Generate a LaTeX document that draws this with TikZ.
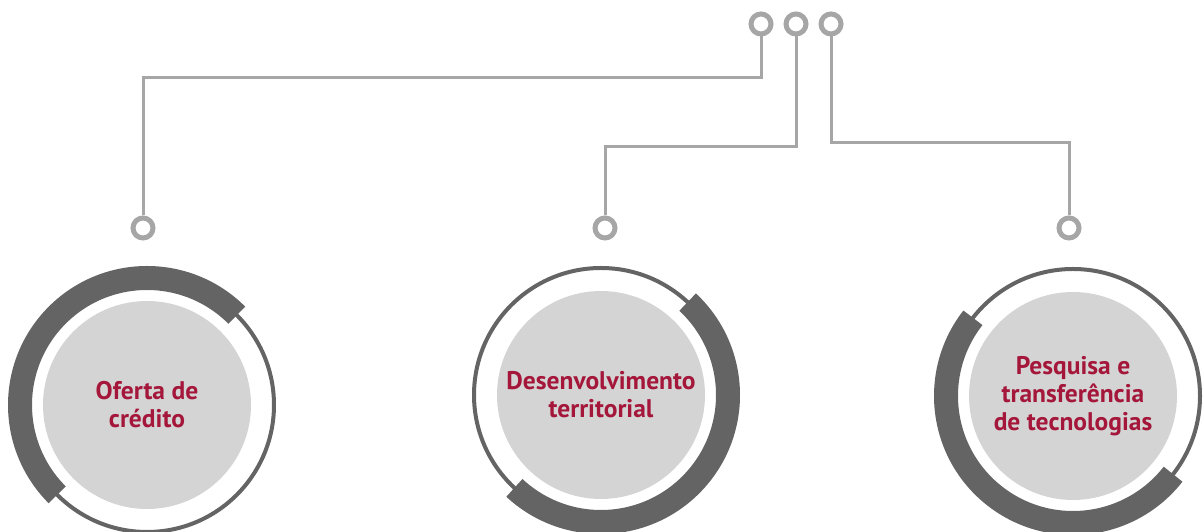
\documentclass[tikz,border=0pt]{standalone}
\usepackage{fontspec}
\setmainfont{PT Sans}
\definecolor{darkring}{HTML}{646464}
\definecolor{discfill}{HTML}{D4D4D4}
\definecolor{linkgray}{HTML}{A6A6A6}
\definecolor{labelred}{HTML}{A4163A}
\begin{document}
\begin{tikzpicture}[x=1pt,y=1pt,
  thinring/.style={draw=darkring,line width=4pt},
  thickarc/.style={draw=darkring,line width=24pt},
  disc/.style={circle,fill=discfill,minimum size=208pt,inner sep=0pt,align=center,
    text=labelred,font=\fontsize{25.5}{28}\selectfont\bfseries},
  pin/.style={circle,draw=linkgray,fill=white,line width=5pt,minimum size=20pt,inner sep=0pt},
  link/.style={draw=linkgray,line width=3pt}]
\useasboundingbox (0,0) rectangle (1203,532);
% circles
\draw[thinring] (147,127) circle (127);
\draw[thickarc] ([shift={(45:127)}]147,127) arc[start angle=45,end angle=225,radius=127];
\node[disc] (c1) at (147,127) {Oferta de\\crédito};
\draw[thinring] (601,137) circle (127);
\draw[thickarc] ([shift={(-133:127)}]601,137) arc[start angle=-133,end angle=47,radius=127];
\node[disc] (c2) at (601,137) {Desenvolvimento\\territorial};
\draw[thinring] (1073,136) circle (127);
\draw[thickarc] ([shift={(142:127)}]1073,136) arc[start angle=142,end angle=322,radius=127];
\node[disc] (c3) at (1073,136) {Pesquisa e\\transferência\\de tecnologias};
% connectors
\coordinate (k1) at (761,454);
\coordinate (k2) at (796,385);
\coordinate (k3) at (831,389);
\node[pin] (t1) at (761,508) {};
\node[pin] (t2) at (796,508) {};
\node[pin] (t3) at (831,508) {};
\node[pin] (b1) at (143,304) {};
\node[pin] (b2) at (605,304) {};
\node[pin] (b3) at (1069,304) {};
\draw[link] (t1.south) -- (k1) -| (b1.north);
\draw[link] (t2.south) -- (k2) -| (b2.north);
\draw[link] (t3.south) -- (k3) -| (b3.north);
\end{tikzpicture}
\end{document}
